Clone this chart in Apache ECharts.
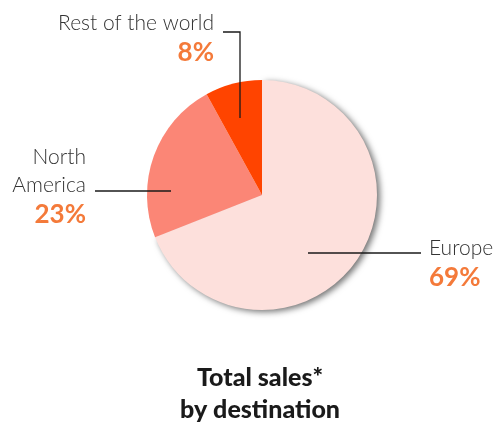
<!DOCTYPE html>
<html><head><meta charset="utf-8">
<script src="https://cdn.jsdelivr.net/npm/echarts@6/dist/echarts.min.js"></script>
<style>html,body{margin:0;padding:0;background:#fff}#c{width:494px;height:427px}</style>
</head><body><div id="c"></div>
<script>
const categories = ['Europe', 'North\nAmerica', 'Rest of the world'];
const values = [69, 23, 8];
const colors = ['#fde0dc', '#fb8676', '#ff4400'];

const chart = echarts.init(document.getElementById('c'));
const layouts = [
  // Europe
  {x: 429, y: 264, align: 'left', pts: [[308, 253], [421, 253]]},
  // North America
  {x: 86, y: 187, align: 'right', pts: [[171, 191], [95, 191]]},
  // Rest of the world
  {x: 214, y: 39, align: 'right', pts: [[240, 118], [240, 32], [223, 32]]}
];
chart.setOption({
  animation: false,
  title: {
    text: 'Total sales*\nby destination',
    left: 255, textAlign: 'center', top: 357,
    textStyle: {fontFamily: 'Lato', fontWeight: 900, fontSize: 25, color: '#1a1a1a', lineHeight: 32}
  },
  graphic: layouts.map(l => ({
    type: 'polyline', z: 100, silent: true,
    shape: {points: l.pts},
    style: {stroke: '#1a1a1a', lineWidth: 1.3, fill: null}
  })),
  series: [{
    type: 'pie',
    center: [262, 195],
    radius: 115,
    startAngle: 90,
    clockwise: true,
    silent: true,
    data: categories.map((c, i) => ({
      name: c, value: values[i],
      itemStyle: i === 0 ? {color: colors[i], shadowBlur: 6, shadowColor: 'rgba(0,0,0,0.55)', shadowOffsetX: 3, shadowOffsetY: 2} : {color: colors[i]}
    })),
    label: {
      show: true,
      position: 'outside',
      formatter: p => p.name.split('\n').map(s => '{n|' + s + '}').join('\n') + '\n{p|' + p.value + '%}',
      rich: {
        n: {fontFamily: 'Lato', fontWeight: 300, fontSize: 21, color: '#333', lineHeight: 28},
        p: {fontFamily: 'Lato', fontWeight: 'bold', fontSize: 26, color: '#f47a3a', lineHeight: 32}
      }
    },
    labelLine: {show: false},
    labelLayout: function (params) {
      const l = layouts[params.dataIndex];
      return {x: l.x, y: l.y, align: l.align, verticalAlign: 'middle'};
    }
  }]
});
</script></body></html>
